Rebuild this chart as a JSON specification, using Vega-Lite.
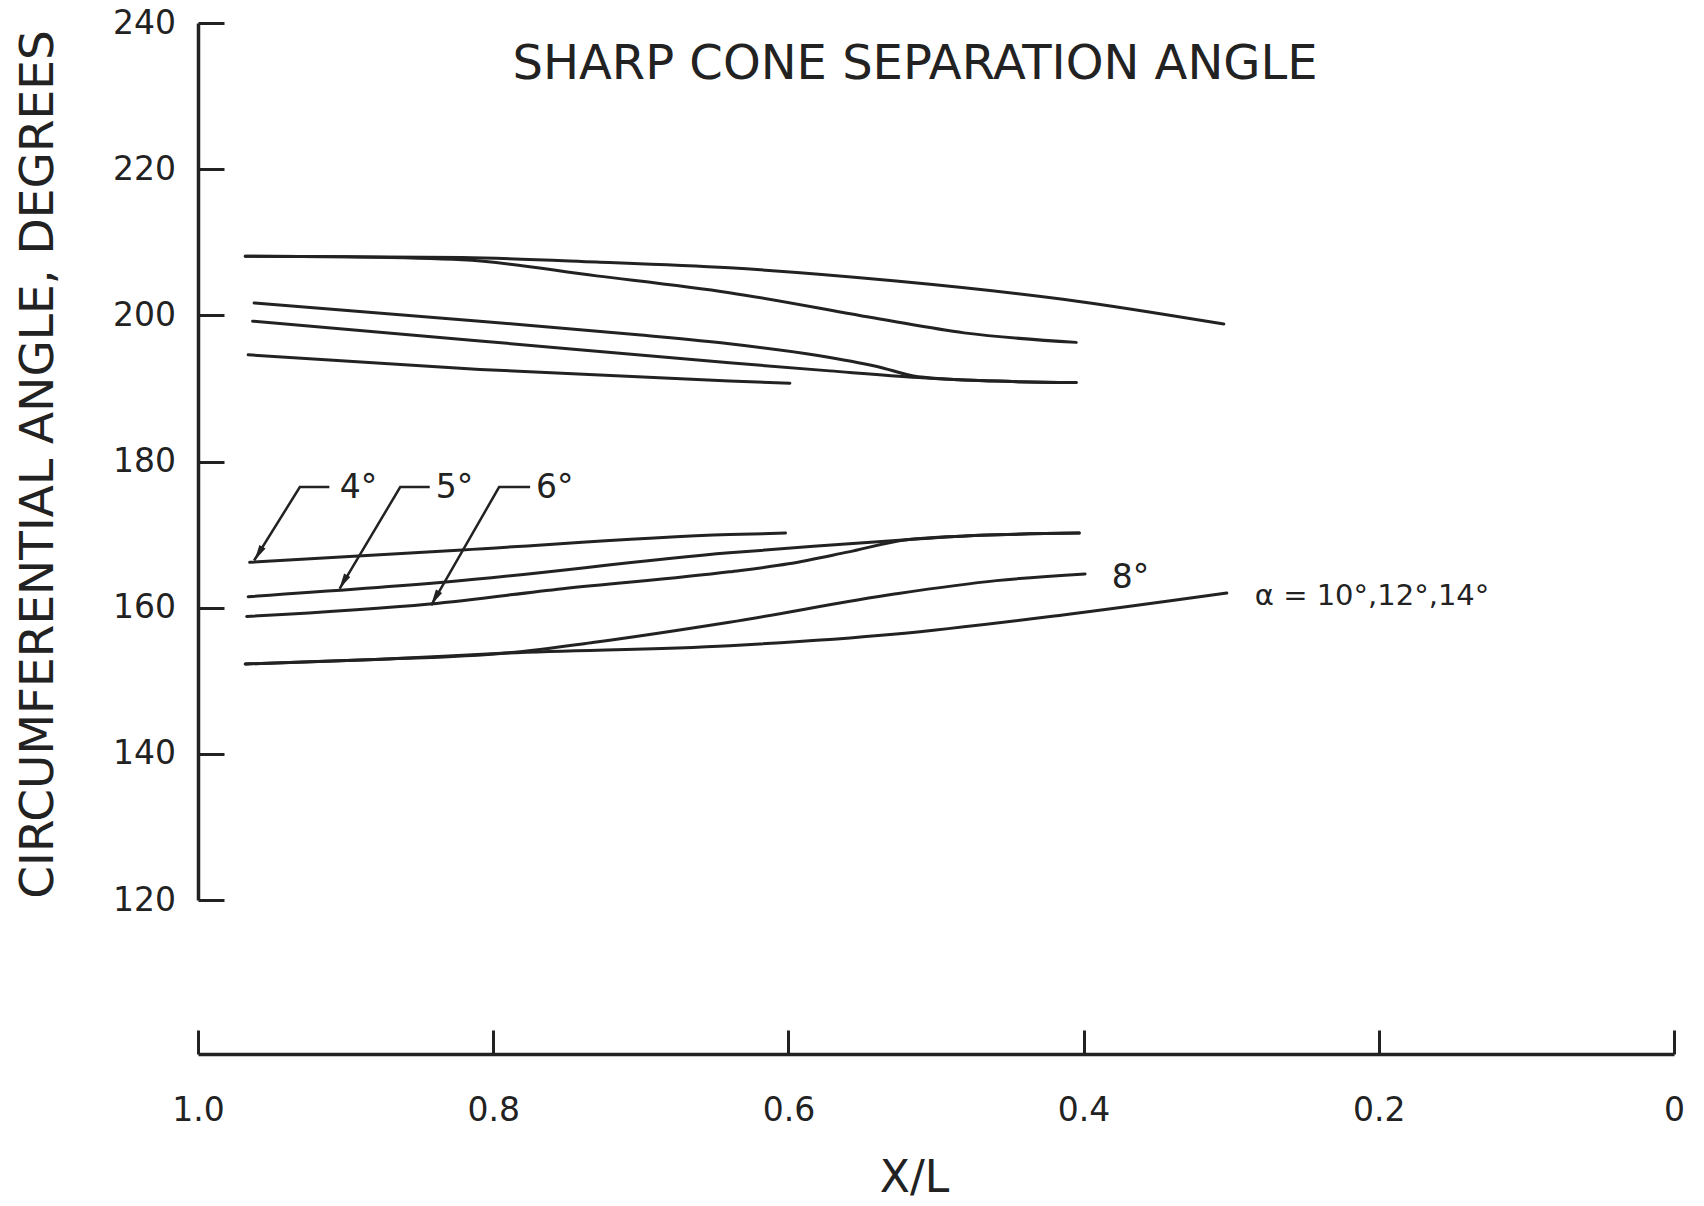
{
  "$schema": "https://vega.github.io/schema/vega-lite/v6.json",
  "width": 1476,
  "height": 877,
  "autosize": {"type": "none"},
  "padding": {"left": 198, "top": 23, "right": 30, "bottom": 306},
  "background": "#ffffff",
  "config": {"view": {"stroke": null}, "font": "DejaVu Sans", "axis": {"grid": false}},
  "title": {"text": "SHARP CONE SEPARATION ANGLE", "fontSize": 48, "fontWeight": "normal", "color": "#222222", "anchor": "middle", "frame": "group", "offset": -82, "dx": -21},
  "datasets": {
    "curves": [
      {"c": "c1", "x": 0.968, "y": 208.1}, {"c": "c1", "x": 0.9, "y": 208.0}, {"c": "c1", "x": 0.821, "y": 207.9}, {"c": "c1", "x": 0.73, "y": 207.3}, {"c": "c1", "x": 0.64, "y": 206.5}, {"c": "c1", "x": 0.527, "y": 204.7}, {"c": "c1", "x": 0.414, "y": 202.2}, {"c": "c1", "x": 0.305, "y": 198.8},
      {"c": "c2", "x": 0.968, "y": 208.1}, {"c": "c2", "x": 0.9, "y": 208.0}, {"c": "c2", "x": 0.821, "y": 207.6}, {"c": "c2", "x": 0.73, "y": 205.4}, {"c": "c2", "x": 0.64, "y": 203.1}, {"c": "c2", "x": 0.538, "y": 199.5}, {"c": "c2", "x": 0.481, "y": 197.6}, {"c": "c2", "x": 0.405, "y": 196.3},
      {"c": "c3", "x": 0.962, "y": 201.7}, {"c": "c3", "x": 0.809, "y": 199.2}, {"c": "c3", "x": 0.7, "y": 197.3}, {"c": "c3", "x": 0.64, "y": 196.1}, {"c": "c3", "x": 0.58, "y": 194.5}, {"c": "c3", "x": 0.54, "y": 193.0}, {"c": "c3", "x": 0.512, "y": 191.6}, {"c": "c3", "x": 0.459, "y": 191.0}, {"c": "c3", "x": 0.405, "y": 190.8},
      {"c": "c4", "x": 0.963, "y": 199.2}, {"c": "c4", "x": 0.809, "y": 196.5}, {"c": "c4", "x": 0.64, "y": 193.5}, {"c": "c4", "x": 0.572, "y": 192.4}, {"c": "c4", "x": 0.512, "y": 191.5}, {"c": "c4", "x": 0.459, "y": 191.0}, {"c": "c4", "x": 0.405, "y": 190.8},
      {"c": "c5", "x": 0.966, "y": 194.6}, {"c": "c5", "x": 0.809, "y": 192.6}, {"c": "c5", "x": 0.64, "y": 191.0}, {"c": "c5", "x": 0.599, "y": 190.7},
      {"c": "d4", "x": 0.965, "y": 166.2}, {"c": "d4", "x": 0.821, "y": 167.9}, {"c": "d4", "x": 0.64, "y": 170.0}, {"c": "d4", "x": 0.602, "y": 170.2},
      {"c": "d5", "x": 0.966, "y": 161.5}, {"c": "d5", "x": 0.832, "y": 163.5}, {"c": "d5", "x": 0.64, "y": 167.5}, {"c": "d5", "x": 0.583, "y": 168.4}, {"c": "d5", "x": 0.52, "y": 169.3}, {"c": "d5", "x": 0.47, "y": 169.9}, {"c": "d5", "x": 0.403, "y": 170.2},
      {"c": "d6", "x": 0.967, "y": 158.8}, {"c": "d6", "x": 0.843, "y": 160.5}, {"c": "d6", "x": 0.753, "y": 162.6}, {"c": "d6", "x": 0.64, "y": 164.9}, {"c": "d6", "x": 0.6, "y": 166.0}, {"c": "d6", "x": 0.56, "y": 167.6}, {"c": "d6", "x": 0.52, "y": 169.3}, {"c": "d6", "x": 0.47, "y": 169.9}, {"c": "d6", "x": 0.403, "y": 170.2},
      {"c": "d8", "x": 0.968, "y": 152.3}, {"c": "d8", "x": 0.88, "y": 152.9}, {"c": "d8", "x": 0.791, "y": 153.8}, {"c": "d8", "x": 0.73, "y": 155.3}, {"c": "d8", "x": 0.64, "y": 158.0}, {"c": "d8", "x": 0.527, "y": 161.9}, {"c": "d8", "x": 0.459, "y": 163.7}, {"c": "d8", "x": 0.399, "y": 164.6},
      {"c": "d10", "x": 0.968, "y": 152.3}, {"c": "d10", "x": 0.88, "y": 152.9}, {"c": "d10", "x": 0.791, "y": 153.8}, {"c": "d10", "x": 0.64, "y": 154.8}, {"c": "d10", "x": 0.527, "y": 156.4}, {"c": "d10", "x": 0.414, "y": 159.0}, {"c": "d10", "x": 0.303, "y": 162.0}
    ],
    "leaders": [
      {"c": "L4", "x": 0.962, "y": 166.45}, {"c": "L4", "x": 0.931, "y": 176.5}, {"c": "L4", "x": 0.911, "y": 176.5},
      {"c": "L5", "x": 0.904, "y": 162.6}, {"c": "L5", "x": 0.863, "y": 176.5}, {"c": "L5", "x": 0.843, "y": 176.5},
      {"c": "L6", "x": 0.842, "y": 160.3}, {"c": "L6", "x": 0.796, "y": 176.5}, {"c": "L6", "x": 0.775, "y": 176.5}
    ],
    "arrows": [
      {"c": "L4", "x": 0.959, "y": 167.4},
      {"c": "L5", "x": 0.9016, "y": 163.5},
      {"c": "L6", "x": 0.8394, "y": 161.3}
    ],
    "labels": [
      {"t": "4°", "x": 0.904, "y": 176.4},
      {"t": "5°", "x": 0.839, "y": 176.4},
      {"t": "6°", "x": 0.771, "y": 176.4},
      {"t": "8°", "x": 0.381, "y": 164.0}
    ],
    "alpha": [
      {"t": "α = 10°,12°,14°", "x": 0.284, "y": 161.6}
    ]
  },
  "encoding": {
    "x": {
      "field": "x", "type": "quantitative",
      "scale": {"domain": [0, 1], "reverse": true, "nice": false, "zero": false},
      "axis": {
        "title": "X/L",
        "values": [1, 0.8, 0.6, 0.4, 0.2, 0],
        "labelExpr": "datum.value == 0 ? '0' : format(datum.value, '.1f')",
        "offset": 154,
        "tickSize": -24, "tickWidth": 3, "tickColor": "#222222",
        "domainColor": "#222222", "domainWidth": 3.5,
        "labelFontSize": 33, "labelColor": "#222222", "labelBaseline": "middle", "labelPadding": 80,
        "labelFlush": false, "labelOverlap": false,
        "titleFontSize": 44, "titleFontWeight": "normal", "titleColor": "#222222",
        "titleX": 716, "titleY": 124, "titleAlign": "center", "titleBaseline": "middle",
        "grid": false
      }
    },
    "y": {
      "field": "y", "type": "quantitative",
      "scale": {"domain": [120, 240], "nice": false, "zero": false},
      "axis": {
        "title": "CIRCUMFERENTIAL ANGLE, DEGREES",
        "values": [120, 140, 160, 180, 200, 220, 240],
        "tickSize": -26, "tickWidth": 3, "tickColor": "#222222",
        "domainColor": "#222222", "domainWidth": 3.5,
        "labelFontSize": 33, "labelColor": "#222222", "labelAlign": "center", "labelBaseline": "middle", "labelPadding": 80,
        "labelFlush": false, "labelOverlap": false,
        "titleFontSize": 47, "titleFontWeight": "normal", "titleColor": "#222222",
        "titleX": -160, "titleY": 441, "titleAngle": 270, "titleAlign": "center", "titleBaseline": "middle",
        "grid": false
      }
    }
  },
  "layer": [
    {
      "data": {"name": "curves"},
      "mark": {"type": "line", "interpolate": "monotone", "color": "#222222", "strokeWidth": 3, "strokeCap": "round"},
      "encoding": {"detail": {"field": "c", "type": "nominal"}}
    },
    {
      "data": {"name": "leaders"},
      "mark": {"type": "line", "interpolate": "linear", "color": "#222222", "strokeWidth": 2.5},
      "encoding": {"detail": {"field": "c", "type": "nominal"}}
    },
    {
      "data": {"name": "arrows"},
      "mark": {"type": "point", "shape": "M0,-1L0.45,1L-0.45,1Z", "filled": true, "color": "#222222", "opacity": 1, "size": 250, "angle": 210}
    },
    {
      "data": {"name": "labels"},
      "mark": {"type": "text", "align": "left", "baseline": "middle", "fontSize": 33, "color": "#222222"},
      "encoding": {"text": {"field": "t", "type": "nominal"}}
    },
    {
      "data": {"name": "alpha"},
      "mark": {"type": "text", "align": "left", "baseline": "middle", "fontSize": 29, "color": "#222222"},
      "encoding": {"text": {"field": "t", "type": "nominal"}}
    }
  ]
}
